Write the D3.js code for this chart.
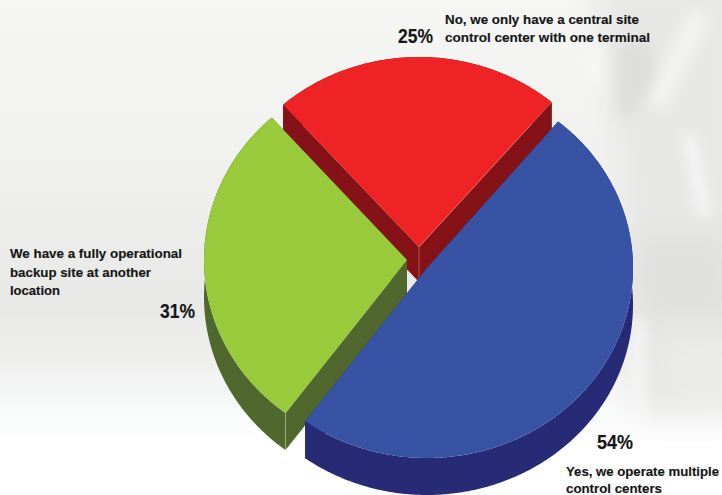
<!DOCTYPE html>
<html>
<head>
<meta charset="utf-8">
<script src="https://cdn.jsdelivr.net/npm/d3@7"></script>
<style>
  html, body { margin: 0; padding: 0; background: #fff; }
  svg { display: block; }
  text { font-family: "Liberation Sans", Arial, sans-serif; font-weight: 700; fill: #161616; stroke: #161616; stroke-width: 0.15; }
</style>
</head>
<body>
<svg id="chart" width="722" height="495"></svg>
<script>
// Survey answers, as printed on the labels (multiple answers allowed, so they exceed 100)
const answers = ["central", "multiple", "backup"];
const percents = [25, 54, 31];
const topColors = ["#EF2325", "#3953A4", "#99CA3C"];
const sideColors = ["#841216", "#272A75", "#50682E"];
const labelLines = [
  ["No, we only have a central site", "control center with one terminal"],
  ["Yes, we operate multiple", "control centers"],
  ["We have a fully operational", "backup site at another", "location"]
];
const percentLabels = ["25%", "54%", "31%"];

const width = 722, height = 495;
const svg = d3.select("#chart");
const defs = svg.append("defs");

// Backdrop: pale grey wash that deepens mid-height and fades to white at the bottom
const wash = defs.append("linearGradient").attr("id", "wash").attr("x1", 0).attr("y1", 0).attr("x2", 0).attr("y2", 1);
[[0, "#f6f7f5"], [0.3, "#f1f2f0"], [0.62, "#e8e8e6"], [0.72, "#eeeeed"], [0.82, "#f8f9f9"], [0.9, "#ffffff"], [1, "#ffffff"]]
  .forEach(([o, c]) => wash.append("stop").attr("offset", o).attr("stop-color", c));
const addBlur = (id, sd) => defs.append("filter").attr("id", id)
  .attr("x", "-60%").attr("y", "-60%").attr("width", "220%").attr("height", "220%")
  .append("feGaussianBlur").attr("stdDeviation", sd);
addBlur("soft", 15);
addBlur("fine", 7);

svg.append("rect").attr("width", width).attr("height", height).attr("fill", "url(#wash)");

// Out-of-focus glass in the right of the backdrop
const haze = svg.append("g").attr("filter", "url(#soft)");
[
  ["M590,-20 L740,-20 L740,415 L635,415 L625,200 Z", "#e7e8e5"],
  ["M630,235 L730,235 L730,325 L640,325 Z", "#e0e1de"],
  ["M668,330 L730,330 L730,405 L668,405 Z", "#ebecea"]
].forEach(([d, c]) => haze.append("path").attr("d", d).attr("fill", c));
const streaks = svg.append("g").attr("filter", "url(#fine)");
[
  ["M617,45 L650,40 L655,80 L630,120 L618,115 Z", "#dddedc"],
  ["M588,46 L598,46 L602,86 L592,86 Z", "#fafbfb"],
  ["M690,10 L712,15 L664,112 L648,100 Z", "#f3f4f3"],
  ["M682,135 L696,133 L712,215 L698,218 Z", "#f4f5f5"],
  ["M632,318 L643,318 L643,425 L634,425 Z", "#f8f8f8"]
].forEach(([d, c]) => streaks.append("path").attr("d", d).attr("fill", c));

// Each slice is a flattened, slightly pulled-apart wedge with its own apex
const rx = [205, 206, 203];
const ry = [190, 190, 191];
const apex = [[419, 247], [427, 268], [407, 260]];
const depth = [35, 37, 37];
const turn = [0, -0.8, -0.3];

const pie = d3.pie().sort(null).startAngle(-41.5 * Math.PI / 180).endAngle((360 - 41.5) * Math.PI / 180);
const slices = pie(percents);

const drawOrder = [0, 2, 1];
drawOrder.forEach(i => {
  const s = slices[i];
  const [cx, cy] = apex[i];
  const x = d3.scaleLinear().domain([-1, 1]).range([cx - rx[i], cx + rx[i]]);
  const y = d3.scaleLinear().domain([-1, 1]).range([cy - ry[i], cy + ry[i]]);
  const offset = turn[i] * Math.PI / 180;
  const rim = d3.range(s.startAngle, s.endAngle, 0.01).concat([s.endAngle])
    .map(a => [x(Math.sin(a + offset)), y(-Math.cos(a + offset))]);
  const outline = d3.line();
  const g = svg.append("g");

  // Side walls: the outline swept straight down by the slice's thickness
  const d = depth[i];
  const lowered = rim.map(([px, py]) => [px, py + d]).reverse();
  const first = rim[0], last = rim[rim.length - 1];
  g.append("path").attr("fill", sideColors[i])
    .attr("d", outline(rim.concat(lowered)) + "Z");
  g.append("path").attr("fill", sideColors[i])
    .attr("d", outline([[cx, cy], first, [first[0], first[1] + d], [cx, cy + d]]) + "Z");
  g.append("path").attr("fill", sideColors[i])
    .attr("d", outline([[cx, cy], last, [last[0], last[1] + d], [cx, cy + d]]) + "Z");

  // Fine highlight on the wall corner facing the viewer
  const edgeAt = i === 2 ? first : (i === 0 ? [cx, cy] : null);
  if (edgeAt) {
    g.append("line").attr("x1", edgeAt[0]).attr("x2", edgeAt[0])
      .attr("y1", edgeAt[1]).attr("y2", edgeAt[1] + d)
      .attr("stroke", "#ffffff").attr("stroke-opacity", 0.35).attr("stroke-width", 0.8);
  }

  // Top face
  g.append("path").attr("fill", topColors[i])
    .attr("d", outline([[cx, cy]].concat(rim)) + "Z");

  // The near-left edge of the red slice catches a thin light line
  if (i === 0) {
    g.append("line").attr("x1", last[0]).attr("y1", last[1]).attr("x2", cx).attr("y2", cy)
      .attr("stroke", "#ffffff").attr("stroke-opacity", 0.4).attr("stroke-width", 0.6);
  }
});

// Percentages and answer captions; widths follow the condensed lettering
const percentSpots = [
  { x: 398, y: 43, w: 35 },
  { x: 597, y: 449, w: 36 },
  { x: 160, y: 318, w: 35 }
];
percentLabels.forEach((t, i) => {
  const p = percentSpots[i];
  svg.append("text").attr("x", p.x).attr("y", p.y).attr("font-size", 19.5)
    .attr("textLength", p.w).attr("lengthAdjust", "spacingAndGlyphs").text(t);
});

const captionSpots = [
  [{ x: 445, y: 24, w: 194 }, { x: 445, y: 42, w: 205 }],
  [{ x: 566, y: 476, w: 153 }, { x: 566, y: 493, w: 96 }],
  [{ x: 10, y: 258, w: 172 }, { x: 10, y: 277, w: 141 }, { x: 10, y: 295, w: 50 }]
];
labelLines.forEach((lines, i) => {
  lines.forEach((t, j) => {
    const p = captionSpots[i][j];
    svg.append("text").attr("x", p.x).attr("y", p.y).attr("font-size", 13.2)
      .attr("textLength", p.w).attr("lengthAdjust", "spacingAndGlyphs").text(t);
  });
});
</script>
</body>
</html>
